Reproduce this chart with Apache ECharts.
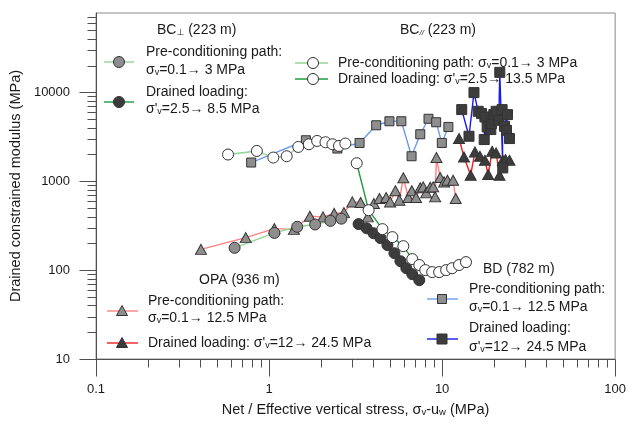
<!DOCTYPE html>
<html>
<head>
<meta charset="utf-8">
<script src="https://cdn.jsdelivr.net/npm/echarts@6/dist/echarts.min.js"></script>
<style>
  html, body { margin: 0; padding: 0; background: #ffffff; }
  #chart { width: 629px; height: 423px; }
</style>
</head>
<body>
<div id="chart"></div>
<script>
// ---- Measured data: vertical stress (MPa) vs drained constrained modulus (MPa) ----

// BC⊥ (223 m)
const bcPerpPreX = [0.632, 1.073, 1.454, 1.846, 2.262, 2.617];
const bcPerpPreY = [178, 262, 307, 326, 358, 379];
const bcPerpLoadX = [3.29, 3.66, 4.01, 4.40, 4.83, 5.30, 5.74, 6.21, 6.72, 7.38];
const bcPerpLoadY = [329, 296, 260, 229, 191, 155, 126, 105, 90, 77];

// BC// (223 m)
const bcParPreX = [0.579, 0.850, 1.058, 1.264, 1.474, 1.698, 1.895, 2.118, 2.323, 2.535, 2.759];
const bcParPreY = [1995, 2190, 1846, 1909, 2429, 2604, 2837, 2743, 2604, 2493, 2652];
const bcParLoadX = [3.21, 3.76, 4.52, 5.16, 5.97, 6.72, 7.38, 7.99, 8.76, 9.61, 10.55, 11.42, 12.52, 13.74];
const bcParLoadY = [1593, 472, 289, 235, 186, 133, 114, 100, 95, 95, 100, 105, 114, 123];

// OPA (936 m)
const opaPreX = [0.404, 0.733, 1.073, 1.392, 1.720, 2.051, 2.378, 2.709, 3.027, 3.379, 3.722,
                 4.030, 4.344, 4.746, 5.004, 5.370, 5.661, 5.969, 6.377, 6.677, 7.064, 7.475,
                 7.778, 8.091, 8.531, 8.877, 9.116, 9.273, 9.739, 10.27, 10.73, 11.57, 11.98];
const opaPreY = [171, 232, 293, 287, 404, 397, 434, 443, 585, 576, 397,
                 562, 639, 656, 585, 782, 612, 1095, 656, 782, 656, 845,
                 863, 739, 856, 863, 666, 1846, 1100, 982, 1026, 1026, 639];
const opaLoadX = [12.52, 13.38, 14.62, 15.48, 16.53, 17.67, 18.46, 19.46, 20.52, 21.46, 22.42, 23.23, 24.50];
const opaLoadY = [3018, 1875, 1168, 2134, 1909, 1722, 1189, 2174, 2080, 1168, 1722, 1753, 1722];

// BD (782 m)
const bdPreX = [0.788, 1.632, 2.482, 3.334, 4.159, 4.959, 5.812, 6.66, 7.475, 8.343, 9.238, 9.96, 10.87];
const bdPreY = [1622, 2888, 2330, 2693, 4258, 4724, 4724, 1909, 3374, 5039, 4602, 2693, 4076];
const bdLoadX = [12.98, 14.30, 15.28, 16.16, 16.91, 17.67, 17.51, 18.21, 19.12, 19.30, 19.90,
                 20.52, 21.26, 21.54, 22.42, 22.21, 22.93, 23.86, 23.55, 24.50];
const bdLoadY = [6391, 3203, 9922, 6116, 5765, 5279, 2941, 4076, 3810, 4450, 5616,
                 6116, 4845, 16774, 1411, 6391, 4150, 5616, 3741, 3018];

// Axis ranges and tick values
const X_MIN = 0.1, X_MAX = 100;
const Y_MIN = 10, Y_MAX = 78000;
const xMajorTicks = [0.1, 1, 10, 100];
const yMajorTicks = [10, 100, 1000, 10000];
const xMinorTicks = [], yMinorTicks = [];
for (const d of [0.1, 1, 10]) for (let k = 2; k <= 9; k++) xMinorTicks.push(+(d * k).toPrecision(3));
for (const d of [10, 100, 1000, 10000]) for (let k = 2; k <= 9; k++) {
  const v = d * k; if (v < Y_MAX) yMinorTicks.push(v);
}

const FONT = '"Liberation Sans", Arial, "DejaVu Sans", sans-serif';
const TEXT = '#1a1a1a';
const AXIS = '#505050';

const C = {
  greenLight: '#93d493', green: '#1f9a3c',
  redLight: '#ff8080', red: '#ee2020',
  blueLight: '#6c9cf0', blue: '#1818f0',
  grey: '#8e8e8e', dark: '#3c3c3c', edge: '#333333', white: '#ffffff'
};

function pairs(xs, ys) { return xs.map((x, i) => [x, ys[i]]); }

function lineSeries(name, xs, ys, symbol, size, fill, lineColor) {
  return {
    name, type: 'line', data: pairs(xs, ys),
    symbol, symbolSize: size, showSymbol: true, clip: false,
    lineStyle: { color: lineColor, width: 1.4 },
    itemStyle: { color: fill, borderColor: C.edge, borderWidth: 1 },
    emphasis: { disabled: true }, animation: false
  };
}

// Tick marks drawn through the axes' own log scales
function tickSeries(axis, values, len) {
  return {
    type: 'custom', silent: true, clip: false, animation: false,
    data: values.map(v => axis === 'x' ? [v, Y_MIN] : [X_MIN, v]),
    renderItem(params, api) {
      const p = api.coord([api.value(0), api.value(1)]);
      const px = Math.round(p[0]) + 0.5, py = Math.round(p[1]) + 0.5;
      const shape = axis === 'x'
        ? { x1: px, y1: py, x2: px, y2: py + len }
        : { x1: px, y1: py, x2: px - len, y2: py };
      return { type: 'line', shape, style: { stroke: AXIS, lineWidth: 1 } };
    }
  };
}

function pow10Label(v) {
  const l = Math.log10(v);
  if (Math.abs(l - Math.round(l)) > 1e-6) return '';
  return v >= 1 ? String(Math.round(v)) : String(+v.toPrecision(3));
}

// ---- Legend blocks ----
const RICH = {
  s: { fontSize: 9, fontFamily: FONT, fill: TEXT, verticalAlign: 'bottom', lineHeight: 10 },
  i: { fontSize: 8, fontFamily: FONT, fontStyle: 'italic', fill: TEXT, verticalAlign: 'bottom', lineHeight: 10 }
};
function txt(x, y, text, size) {
  return { type: 'text', x, y, silent: true,
    style: { text, fill: TEXT, fontSize: size || 14, fontFamily: FONT,
             align: 'left', verticalAlign: 'middle', rich: RICH } };
}
function key(cx, cy, x1, x2, lineColor, symbol, fill, size) {
  const els = [{ type: 'line', silent: true,
    shape: { x1, y1: cy, x2, y2: cy }, style: { stroke: lineColor, lineWidth: 1.4 } }];
  const st = { fill, stroke: C.edge, lineWidth: 1 };
  if (symbol === 'circle') els.push({ type: 'circle', silent: true, shape: { cx, cy, r: size / 2 }, style: st });
  else if (symbol === 'rect') els.push({ type: 'rect', silent: true, shape: { x: cx - size / 2, y: cy - size / 2, width: size, height: size }, style: st });
  else els.push({ type: 'polygon', silent: true, shape: { points: [[cx, cy - size / 2], [cx + size / 2, cy + size / 2 - 1], [cx - size / 2, cy + size / 2 - 1]] }, style: st });
  return els;
}

const graphics = [].concat(
  // BC⊥
  [txt(157, 30, 'BC{s|⊥} (223 m)')],
  key(119, 62, 104, 134, C.greenLight, 'circle', C.grey, 11),
  [txt(146, 52, 'Pre-conditioning path:'), txt(146, 70, 'σ{s|v}=0.1→ 3 MPa')],
  key(119, 102, 104, 134, C.green, 'circle', C.dark, 11),
  [txt(146, 92, 'Drained loading:'), txt(146, 109, 'σ\'{s|v}=2.5→ 8.5 MPa')],
  // BC//
  [txt(400, 30, 'BC{i|//} (223 m)')],
  key(313, 63, 295, 328, C.greenLight, 'circle', C.white, 11),
  [txt(338, 63, 'Pre-conditioning path: σ{s|v}=0.1→ 3 MPa')],
  key(313, 79, 295, 328, C.green, 'circle', C.white, 11),
  [txt(338, 79, 'Drained loading: σ\'{s|v}=2.5→ 13.5 MPa')],
  // OPA
  [txt(199, 280, 'OPA (936 m)')],
  key(122, 311, 107, 138, C.redLight, 'triangle', C.grey, 11),
  [txt(148, 301, 'Pre-conditioning path:'), txt(148, 318, 'σ{s|v}=0.1→ 12.5 MPa')],
  key(122, 343, 107, 138, C.red, 'triangle', C.dark, 11),
  [txt(148, 343, 'Drained loading: σ\'{s|v}=12→ 24.5 MPa')],
  // BD
  [txt(483, 269, 'BD (782 m)')],
  key(442, 299, 427, 458, C.blueLight, 'rect', C.grey, 9),
  [txt(469, 289, 'Pre-conditioning path:'), txt(469, 307, 'σ{s|v}=0.1→ 12.5 MPa')],
  key(442, 339, 427, 458, C.blue, 'rect', C.dark, 10),
  [txt(469, 328, 'Drained loading:'), txt(469, 347, 'σ\'{s|v}=12→ 24.5 MPa')]
);

const chart = echarts.init(document.getElementById('chart'), null, { renderer: 'canvas' });
chart.setOption({
  backgroundColor: '#ffffff',
  animation: false,
  textStyle: { fontFamily: FONT },
  grid: { left: 95, right: 12, top: 13, bottom: 64, show: true, borderColor: '#8a8a8a', borderWidth: 1 },
  xAxis: {
    type: 'log', logBase: 10, min: X_MIN, max: X_MAX,
    axisLine: { show: true, lineStyle: { color: AXIS, width: 1 } },
    axisTick: { show: false }, splitLine: { show: false }, minorTick: { show: false },
    axisLabel: { color: TEXT, fontSize: 13, fontFamily: FONT, margin: 24, formatter: pow10Label },
    name: 'Net / Effective vertical stress, σ{s|v}-u{s|w} (MPa)',
    nameLocation: 'middle', nameGap: 43,
    nameTextStyle: { color: TEXT, fontSize: 14.5, fontFamily: FONT,
      rich: { s: { fontSize: 9.5, fontFamily: FONT, color: TEXT, verticalAlign: 'bottom', lineHeight: 10 } } }
  },
  yAxis: {
    type: 'log', logBase: 10, min: Y_MIN, max: Y_MAX,
    axisLine: { show: true, lineStyle: { color: AXIS, width: 1 } },
    axisTick: { show: false }, splitLine: { show: false }, minorTick: { show: false },
    axisLabel: { color: TEXT, fontSize: 13, fontFamily: FONT, margin: 26, formatter: pow10Label },
    name: 'Drained constrained modulus (MPa)',
    nameLocation: 'middle', nameGap: 68,
    nameTextStyle: { color: TEXT, fontSize: 14.5, fontFamily: FONT }
  },
  series: [
    tickSeries('x', xMajorTicks, 17),
    tickSeries('x', xMinorTicks, 8),
    tickSeries('y', yMajorTicks, 17),
    tickSeries('y', yMinorTicks, 9),
    lineSeries('OPA pre-conditioning', opaPreX, opaPreY, 'triangle', [11, 10], C.grey, C.redLight),
    lineSeries('OPA drained loading', opaLoadX, opaLoadY, 'triangle', [11, 10], C.dark, C.red),
    lineSeries('BD pre-conditioning', bdPreX, bdPreY, 'rect', 9, C.grey, C.blueLight),
    lineSeries('BD drained loading', bdLoadX, bdLoadY, 'rect', 10, C.dark, C.blue),
    lineSeries('BC⊥ pre-conditioning', bcPerpPreX, bcPerpPreY, 'circle', 11, C.grey, C.greenLight),
    lineSeries('BC⊥ drained loading', bcPerpLoadX, bcPerpLoadY, 'circle', 11, C.dark, C.green),
    lineSeries('BC// pre-conditioning', bcParPreX, bcParPreY, 'circle', 11, C.white, C.greenLight),
    lineSeries('BC// drained loading', bcParLoadX, bcParLoadY, 'circle', 11, C.white, C.green)
  ],
  graphic: { elements: graphics }
});
</script>
</body>
</html>
